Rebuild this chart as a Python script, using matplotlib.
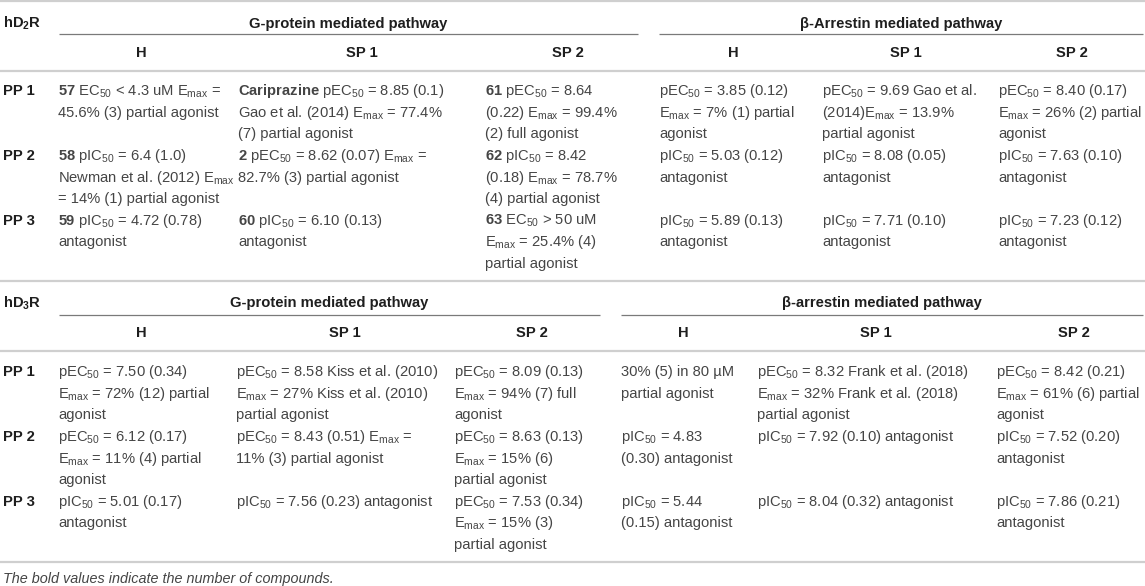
import re
import matplotlib
matplotlib.use("Agg")
import matplotlib.pyplot as plt

plt.rcParams['mathtext.fontset'] = 'custom'
plt.rcParams['mathtext.rm'] = 'Liberation Sans'
plt.rcParams['mathtext.it'] = 'Liberation Sans:italic'
plt.rcParams['mathtext.bf'] = 'Liberation Sans:bold'
plt.rcParams['font.family'] = ['Liberation Sans', 'DejaVu Sans']

# ---------------- data ----------------
receptors = ["hD_{2}R", "hD_{3}R"]
pathways_d2 = ["G-protein mediated pathway", "β-Arrestin mediated pathway"]
pathways_d3 = ["G-protein mediated pathway", "β-arrestin mediated pathway"]
sub_columns = ["H", "SP 1", "SP 2", "H", "SP 1", "SP 2"]
row_labels = ["PP 1", "PP 2", "PP 3"]
footnote = "The bold values indicate the number of compounds."

d2_cells = [
    [["**57** EC_{50} < 4.3 uM E_{max} =", "45.6% (3) partial agonist"],
     ["**Cariprazine** pEC_{50} = 8.85 (0.1)", "Gao et al. (2014) E_{max} = 77.4%", "(7) partial agonist"],
     ["**61** pEC_{50} = 8.64", "(0.22) E_{max} = 99.4%", "(2) full agonist"],
     ["pEC_{50} = 3.85 (0.12)", "E_{max} = 7% (1) partial", "agonist"],
     ["pEC_{50} = 9.69 Gao et al.", "(2014)E_{max} = 13.9%", "partial agonist"],
     ["pEC_{50} = 8.40 (0.17)", "E_{max} = 26% (2) partial", "agonist"]],
    [["**58** pIC_{50} = 6.4 (1.0)", "Newman et al. (2012) E_{max}", "= 14% (1) partial agonist"],
     ["**2** pEC_{50} = 8.62 (0.07) E_{max} =", "82.7% (3) partial agonist"],
     ["**62** pIC_{50} = 8.42", "(0.18) E_{max} = 78.7%", "(4) partial agonist"],
     ["pIC_{50} = 5.03 (0.12)", "antagonist"],
     ["pIC_{50} = 8.08 (0.05)", "antagonist"],
     ["pIC_{50} = 7.63 (0.10)", "antagonist"]],
    [["**59** pIC_{50} = 4.72 (0.78)", "antagonist"],
     ["**60** pIC_{50} = 6.10 (0.13)", "antagonist"],
     ["**63** EC_{50} > 50 uM", "E_{max} = 25.4% (4)", "partial agonist"],
     ["pIC_{50} = 5.89 (0.13)", "antagonist"],
     ["pIC_{50} = 7.71 (0.10)", "antagonist"],
     ["pIC_{50} = 7.23 (0.12)", "antagonist"]],
]

d3_cells = [
    [["pEC_{50} = 7.50 (0.34)", "E_{max} = 72% (12) partial", "agonist"],
     ["pEC_{50} = 8.58 Kiss et al. (2010)", "E_{max} = 27% Kiss et al. (2010)", "partial agonist"],
     ["pEC_{50} = 8.09 (0.13)", "E_{max} = 94% (7) full", "agonist"],
     ["30% (5) in 80 µM", "partial agonist"],
     ["pEC_{50} = 8.32 Frank et al. (2018)", "E_{max} = 32% Frank et al. (2018)", "partial agonist"],
     ["pEC_{50} = 8.42 (0.21)", "E_{max} = 61% (6) partial", "agonist"]],
    [["pEC_{50} = 6.12 (0.17)", "E_{max} = 11% (4) partial", "agonist"],
     ["pEC_{50} = 8.43 (0.51) E_{max} =", "11% (3) partial agonist"],
     ["pEC_{50} = 8.63 (0.13)", "E_{max} = 15% (6)", "partial agonist"],
     ["pIC_{50} = 4.83", "(0.30) antagonist"],
     ["pIC_{50} = 7.92 (0.10) antagonist"],
     ["pIC_{50} = 7.52 (0.20)", "antagonist"]],
    [["pIC_{50} = 5.01 (0.17)", "antagonist"],
     ["pIC_{50} = 7.56 (0.23) antagonist"],
     ["pEC_{50} = 7.53 (0.34)", "E_{max} = 15% (3)", "partial agonist"],
     ["pIC_{50} = 5.44", "(0.15) antagonist"],
     ["pIC_{50} = 8.04 (0.32) antagonist"],
     ["pIC_{50} = 7.86 (0.21)", "antagonist"]],
]

# ---------------- layout ----------------
W, H = 1145, 586
FS = 10.6
TXT = "#454545"
HDR = "#1e1e1e"
RULE = "#cfcfcf"
LINE_H = 21.6

sections = [
    dict(receptor=receptors[0], pathways=pathways_d2, cells=d2_cells,
         title_y=22.5, under_y=34, sub_y=52, rule_y=70.5, first_y=90,
         col_x=[58, 238, 485, 659, 822, 998],
         head_cx=[141, 362, 568, 733, 906, 1072],
         spans=[(59, 638), (659, 1143)]),
    dict(receptor=receptors[1], pathways=pathways_d3, cells=d3_cells,
         title_y=302, under_y=315, sub_y=332, rule_y=351, first_y=371,
         col_x=[58, 236, 454, 621, 757, 996],
         head_cx=[141, 345, 532, 683, 876, 1074],
         spans=[(59, 600), (621, 1143)]),
]
outer_rules = [1.0, 281, 562]


def fmt(s):
    s = re.sub(r"\*\*(.+?)\*\*", r"$\\mathbf{\1}$", s)
    s = s.replace("_{max}", r"$_{\mathrm{max}}$")
    s = re.sub(r"_\{(\d+)\}", r"$_{\1}$", s)
    return s


def fmt_bold(s):
    return re.sub(r"_\{(\d+)\}", r"$_{\\mathbf{\1}}$", s)


fig = plt.figure(figsize=(W / 100, H / 100), dpi=100)
ax = fig.add_axes([0, 0, 1, 1])
ax.set_xlim(0, W)
ax.set_ylim(H, 0)
ax.axis("off")

BASE = 5.2  # baseline offset from visual line centre

for y in outer_rules:
    ax.plot([0, W], [y, y], color=RULE, lw=1.6, solid_capstyle="butt")

for sec in sections:
    ax.text(3, sec["title_y"] + BASE, fmt_bold(sec["receptor"]), fontsize=FS,
            fontweight="bold", color=HDR, va="baseline", ha="left")
    for (x0, x1), title in zip(sec["spans"], sec["pathways"]):
        ax.text((x0 + x1) / 2, sec["title_y"] + BASE, title, fontsize=FS,
                fontweight="bold", color=HDR, va="baseline", ha="center")
        ax.plot([x0, x1], [sec["under_y"]] * 2, color="#7a7a7a", lw=0.9,
                solid_capstyle="butt")
    for cx, name in zip(sec["head_cx"], sub_columns):
        ax.text(cx, sec["sub_y"] + BASE, name, fontsize=FS, fontweight="bold",
                color=HDR, va="baseline", ha="center")
    ax.plot([0, W], [sec["rule_y"]] * 2, color=RULE, lw=1.6, solid_capstyle="butt")

    y = sec["first_y"]
    for label, row in zip(row_labels, sec["cells"]):
        ax.text(3, y + BASE, label, fontsize=FS, fontweight="bold", color=HDR,
                va="baseline", ha="left")
        nlines = max(len(c) for c in row)
        for cx, cell in zip(sec["col_x"], row):
            for k, line in enumerate(cell):
                ax.text(cx, y + k * LINE_H + BASE, fmt(line), fontsize=FS,
                        color=TXT, va="baseline", ha="left")
        y += nlines * LINE_H

ax.text(3, 578 + BASE, footnote, fontsize=FS - 0.2, style="italic",
        color=TXT, va="baseline", ha="left")

fig.savefig("out.png", dpi=100)
